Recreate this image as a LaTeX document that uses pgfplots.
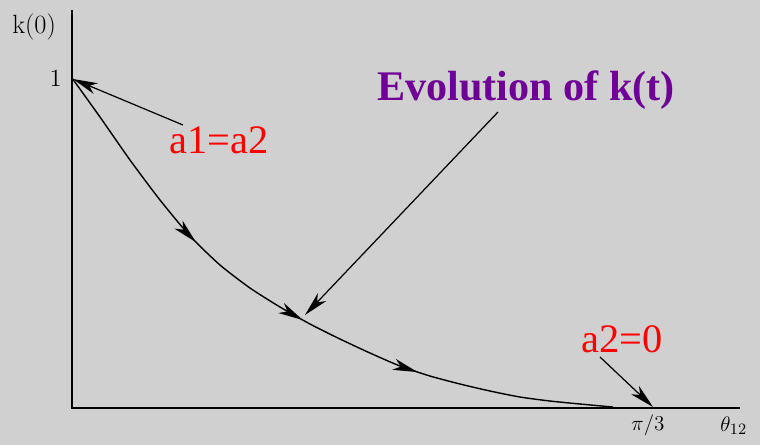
\documentclass[border=0pt]{standalone}
\usepackage{fontspec}
\usepackage{pgfplots}
\pgfplotsset{compat=1.18}
\usetikzlibrary{arrows.meta,decorations.markings}
\newfontfamily\tnr{Liberation Serif}
\definecolor{bg}{HTML}{D0D0D0}
\definecolor{evo}{HTML}{6E0096}
\tikzset{hd/.style={arrows={-Stealth[length=14pt,width=6.5pt,inset=4pt]}}}
\begin{document}
\begin{tikzpicture}
\begin{axis}[
  width=15.2cm, height=8.9cm, scale only axis,
  xmin=0, xmax=760, ymin=0, ymax=445, y dir=reverse,
  axis lines=none, ticks=none, clip=false,
  axis background/.style={fill=bg},
]
% axes
\addplot[black, line width=1.2pt, line join=miter] coordinates {(72,10) (72,408) (740,408)};
% curve k(t)
\addplot[black, line width=0.8pt, smooth, tension=0.4,
  postaction={decorate},
  decoration={markings,
    mark=at position 0.31 with {\arrow{Stealth[length=14pt,width=6.5pt,inset=4pt]}},
    mark=at position 0.51 with {\arrow{Stealth[length=14pt,width=6.5pt,inset=4pt]}},
    mark=at position 0.70 with {\arrow{Stealth[length=14pt,width=6.5pt,inset=4pt]}}}]
  coordinates {(72,78) (100,117) (130,160) (160,200) (190,236) (220,265) (250,288) (280,307) (310,324) (340,339) (370,353) (400,366) (430,376) (460,384) (490,391) (520,397) (550,401) (580,404) (613,407)};
% annotation arrows
\addplot[black, line width=0.7pt, hd] coordinates {(183,125) (73,79)};
\addplot[black, line width=0.7pt, hd] coordinates {(498,112) (305,315)};
\addplot[black, line width=0.7pt, hd] coordinates {(600,357) (653,407)};
% texts
\node[anchor=base west, inner sep=0pt, text=evo, font=\fontsize{24}{28}\selectfont\tnr\bfseries] at (axis cs:377,100) {Evolution of k(t)};
\node[anchor=base, inner sep=0pt, text=red, font=\fontsize{23}{26}\selectfont\tnr] at (axis cs:219,153) {a1=a2};
\node[anchor=base, inner sep=0pt, text=red, font=\fontsize{23}{26}\selectfont\tnr] at (axis cs:622,352) {a2=0};
\node[anchor=base west, inner sep=0pt, font=\fontsize{15}{18}\selectfont] at (axis cs:12,33) {k(0)};
\node[anchor=base east, inner sep=0pt, font=\fontsize{14}{17}\selectfont] at (axis cs:62,86) {1};
\node[anchor=base, inner sep=0pt, font=\fontsize{12}{14}\selectfont] at (axis cs:648,430) {$\pi/3$};
\node[anchor=base west, inner sep=0pt, font=\fontsize{13}{15}\selectfont] at (axis cs:720,431) {$\theta_{12}$};
\end{axis}
\end{tikzpicture}
\end{document}
